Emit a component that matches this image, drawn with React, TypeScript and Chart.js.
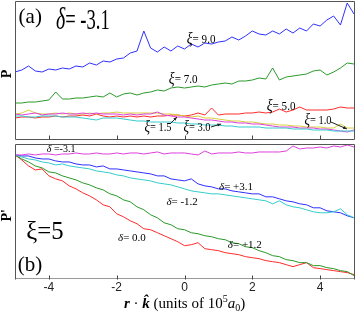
import React, { useEffect, useRef } from "react";
import { Chart, registerables } from "chart.js";
Chart.register(...registerables);

const SERIF = '"Liberation Serif", "DejaVu Serif", serif';
const SANS = '"Liberation Sans", Arial, sans-serif';

// r·k (units of 1e5 a0)
const X_VALUES = [-5, -4.8, -4.6, -4.4, -4.2, -4, -3.8, -3.6, -3.4, -3.2, -3, -2.8, -2.6, -2.4, -2.2, -2, -1.8, -1.6, -1.4, -1.2, -1, -0.8, -0.6, -0.4, -0.2, 0, 0.2, 0.4, 0.6, 0.8, 1, 1.2, 1.4, 1.6, 1.8, 2, 2.2, 2.4, 2.6, 2.8, 3, 3.2, 3.4, 3.6, 3.8, 4, 4.2, 4.4, 4.6, 4.8, 5];
const X_TICKS = [-4, -2, 0, 2, 4];

// Panel (a): delta = -3.1, P (arbitrary units)
const A_XI_9 = [67, 69, 73, 68, 67, 70, 69, 71, 70, 73, 72, 76, 74, 78, 77, 80, 81, 86, 88, 108, 91, 87, 92, 88, 93, 90, 95, 92, 96, 95, 97, 98, 102, 99, 103, 108, 105, 104, 108, 105, 110, 106, 111, 108, 115, 113, 119, 123, 114, 136, 125];
const A_XI_7 = [36, 36, 37, 37, 38, 39, 47, 40, 40, 41, 41, 42, 43, 42, 46, 42, 45, 46, 44, 46, 47, 49, 48, 51, 52, 51, 52, 53, 52, 54, 55, 56, 55, 58, 58, 59, 61, 60, 71, 59, 62, 63, 64, 65, 68, 69, 64, 67, 71, 76, 75];
const A_XI_5 = [21, 22, 22, 21, 22, 22, 23, 22, 23, 23, 24, 23, 25, 23, 22, 23, 22, 23, 22, 23, 22, 23, 23, 24, 24, 23, 24, 26, 24, 31, 24, 25, 25, 25, 26, 26, 27, 26, 27, 30, 27, 29, 32, 29, 29, 29, 29, 30, 32, 31, 31];
const A_XI_1_0 = [25, 26, 29, 26, 25, 25, 26, 25, 26, 25, 25, 26, 25, 26, 26, 27, 26, 26, 26, 26, 26, 26, 25, 25, 24, 23, 22, 23, 21, 21, 20, 19, 18, 18, 17, 17, 16, 15, 15, 14, 14, 13, 13, 12, 12, 12, 11, 11, 15, 11, 11];
const A_XI_1_5 = [25, 24, 25, 26, 24, 25, 25, 26, 25, 25, 26, 25, 26, 25, 25, 25, 24, 25, 24, 25, 25, 27, 24, 23, 22, 22, 21, 20, 19, 19, 18, 17, 17, 16, 16, 15, 15, 14, 13, 12, 12, 12, 11, 11, 11, 10, 10, 9, 8, 7, 9];
const A_XI_3 = [23, 23, 22, 22, 23, 23, 23, 22, 22, 22, 21, 20, 19, 21, 21, 21, 20, 19, 18, 18, 17, 17, 17, 17, 16, 16, 15, 15, 14, 14, 14, 13, 13, 12, 12, 12, 12, 11, 11, 11, 11, 10, 10, 10, 9, 9, 9, 8, 8, 8, 8];

// Panel (b): xi = 5, P' (arbitrary units)
const B_D_M31 = [124, 124, 125, 124, 125, 125, 124, 125, 125, 126, 125, 125, 126, 125, 125, 126, 125, 126, 126, 125, 126, 127, 125, 126, 126, 126, 125, 124, 128, 125, 126, 126, 126, 127, 126, 126, 127, 127, 127, 127, 128, 133, 130, 131, 131, 132, 131, 133, 132, 134, 132];
const B_D_P31 = [124, 123, 123, 121, 120, 120, 118, 117, 117, 115, 114, 114, 112, 113, 110, 110, 109, 108, 107, 106, 105, 103, 103, 100, 99, 98, 100, 95, 93, 92, 90, 90, 88, 87, 86, 85, 85, 82, 82, 80, 78, 77, 75, 74, 71, 71, 68, 67, 66, 63, 61];
const B_D_M12 = [124, 122, 120, 119, 117, 116, 114, 115, 113, 112, 111, 110, 108, 107, 106, 104, 103, 101, 100, 99, 98, 96, 95, 94, 92, 90, 88, 87, 86, 85, 85, 84, 83, 82, 81, 80, 79, 78, 75, 78, 74, 72, 71, 69, 67, 66, 66, 67, 70, 64, 61];
const B_D_P12 = [124, 120, 117, 113, 111, 107, 106, 103, 101, 99, 96, 94, 91, 89, 85, 83, 79, 77, 72, 69, 64, 61, 56, 54, 50, 49, 46, 45, 43, 42, 40, 39, 36, 35, 32, 31, 28, 26, 23, 22, 19, 18, 16, 16, 13, 13, 11, 10, 8, 7, 3];
const B_D_00 = [124, 119, 113, 109, 110, 103, 100, 98, 93, 90, 86, 83, 79, 74, 72, 65, 62, 58, 55, 50, 49, 46, 43, 40, 37, 33, 34, 36, 30, 29, 28, 26, 25, 24, 22, 21, 20, 18, 17, 16, 14, 12, 14, 16, 11, 10, 9, 8, 7, 6, 4];

const C_BLUE = "#2f2fff";
const C_GREEN = "#2a9a2a";
const C_RED = "#ff2b2b";
const C_YELLOW = "#d6cf3a";
const C_MAGENTA = "#dd3fdd";
const C_CYAN = "#35cccc";

type Part = { t: string; font: string; dy?: number };
type Label = { x: number; y: number; parts: Part[]; sx?: number };
type Arrow = { x1: number; y1: number; x2: number; y2: number };

const xiLabel = (v: string): Part[] => [
  { t: "ξ", font: `italic 16px ${SERIF}` },
  { t: "= " + v, font: `13px ${SERIF}` },
];
const dLabel = (v: string): Part[] => [
  { t: "δ", font: `italic 11px ${SERIF}` },
  { t: "=" + v, font: `11px ${SERIF}` },
];

const A_LABELS: Label[] = [
  { x: -4.55, y: 122, parts: [{ t: "(a)", font: `21px ${SERIF}` }] },
  { x: -3.0, y: 118, parts: [{ t: "δ", font: `italic 31px ${SERIF}` }, { t: "= -3.1", font: `29px ${SERIF}` }], sx: 0.64 },
  { x: 0.49, y: 99, parts: xiLabel("9.0"), sx: 0.85 },
  { x: -0.04, y: 59, parts: xiLabel("7.0"), sx: 0.85 },
  { x: 2.85, y: 32, parts: xiLabel("5.0"), sx: 0.85 },
  { x: 3.94, y: 18, parts: xiLabel("1.0"), sx: 0.8 },
  { x: -0.78, y: 11, parts: xiLabel("1.5"), sx: 0.8 },
  { x: 0.37, y: 11, parts: xiLabel("3.0"), sx: 0.8 },
];
const A_ARROWS: Arrow[] = [
  { x1: 4.32, y1: 17, x2: 4.79, y2: 10 },
  { x1: -0.43, y1: 15, x2: -0.22, y2: 22 },
  { x1: 0.78, y1: 12, x2: 1.08, y2: 15 },
];
const B_LABELS: Label[] = [
  { x: -3.64, y: 130, parts: [{ t: "δ", font: `italic 10px ${SERIF}` }, { t: " =-3.1", font: `10px ${SERIF}` }] },
  { x: -4.12, y: 47, parts: [{ t: "ξ=5", font: `26px ${SERIF}` }], sx: 0.95 },
  { x: -4.56, y: 13, parts: [{ t: "(b)", font: `21px ${SERIF}` }] },
  { x: -1.55, y: 41, parts: dLabel(" 0.0") },
  { x: -0.07, y: 77, parts: dLabel(" -1.2") },
  { x: 1.52, y: 92, parts: dLabel(" +3.1") },
  { x: 1.78, y: 34, parts: dLabel(" +1.2") },
];

function drawParts(ctx: CanvasRenderingContext2D, parts: Part[], cx: number, cy: number, sx = 1) {
  ctx.save();
  ctx.textBaseline = "middle";
  ctx.textAlign = "left";
  ctx.fillStyle = "#000";
  let w = 0;
  const widths = parts.map((p) => {
    ctx.font = p.font;
    const m = ctx.measureText(p.t).width;
    w += m;
    return m;
  });
  ctx.translate(cx, cy);
  ctx.scale(sx, 1);
  let x = -w / 2;
  parts.forEach((p, i) => {
    ctx.font = p.font;
    ctx.fillText(p.t, x, p.dy || 0);
    x += widths[i];
  });
  ctx.restore();
}

function makeOverlay(opts: {
  yTitle: string;
  labels: Label[];
  arrows: Arrow[];
  bottomFrame: boolean;
  xTitle: boolean;
}) {
  return {
    id: "overlay",
    afterDraw(chart: any) {
      const { ctx, chartArea } = chart;
      const xs = chart.scales.x;
      const ys = chart.scales.y;
      const L = Math.round(chartArea.left) + 0.5;
      const R = Math.round(chartArea.right) + 0.5;
      const T = Math.round(chartArea.top) + 0.5;
      const B = Math.round(chartArea.bottom) + 0.5;
      ctx.save();
      ctx.lineWidth = 1;
      ctx.strokeStyle = "#555";
      ctx.beginPath();
      ctx.moveTo(L, B);
      ctx.lineTo(L, T);
      ctx.lineTo(R, T);
      ctx.lineTo(R, B);
      if (opts.bottomFrame) ctx.lineTo(L, B);
      ctx.stroke();
      // inward ticks
      ctx.strokeStyle = "#444";
      ctx.beginPath();
      X_TICKS.forEach((v) => {
        const px = Math.round(xs.getPixelForValue(v)) + 0.5;
        ctx.moveTo(px, B);
        ctx.lineTo(px, B - 4);
      });
      ctx.stroke();
      // arrows
      ctx.strokeStyle = "#222";
      ctx.fillStyle = "#222";
      opts.arrows.forEach((a) => {
        const x1 = xs.getPixelForValue(a.x1), y1 = ys.getPixelForValue(a.y1);
        const x2 = xs.getPixelForValue(a.x2), y2 = ys.getPixelForValue(a.y2);
        ctx.beginPath();
        ctx.moveTo(x1, y1);
        ctx.lineTo(x2, y2);
        ctx.stroke();
        const ang = Math.atan2(y2 - y1, x2 - x1);
        ctx.beginPath();
        ctx.moveTo(x2, y2);
        ctx.lineTo(x2 - 4 * Math.cos(ang - 0.4), y2 - 4 * Math.sin(ang - 0.4));
        ctx.lineTo(x2 - 4 * Math.cos(ang + 0.4), y2 - 4 * Math.sin(ang + 0.4));
        ctx.closePath();
        ctx.fill();
      });
      ctx.restore();
      // labels
      opts.labels.forEach((l) => {
        drawParts(ctx, l.parts, xs.getPixelForValue(l.x), ys.getPixelForValue(l.y), l.sx || 1);
      });
      // y title
      ctx.save();
      ctx.translate(7, (chartArea.top + chartArea.bottom) / 2 + 4);
      ctx.rotate(-Math.PI / 2);
      ctx.textAlign = "center";
      ctx.textBaseline = "middle";
      ctx.font = `bold 14px ${SERIF}`;
      ctx.fillStyle = "#000";
      ctx.fillText(opts.yTitle, 0, 0);
      ctx.restore();
      if (opts.xTitle) {
        const cx = (chartArea.left + chartArea.right) / 2;
        drawParts(
          ctx,
          [
            { t: "r", font: `bold italic 15px ${SERIF}` },
            { t: " · ", font: `15px ${SERIF}` },
            { t: "k\u0302", font: `bold italic 15px ${SERIF}` },
            { t: " (units of 10", font: `15px ${SERIF}` },
            { t: "5", font: `10px ${SERIF}`, dy: -5 },
            { t: "a", font: `italic 15px ${SERIF}` },
            { t: "0", font: `10px ${SERIF}`, dy: 4 },
            { t: ")", font: `15px ${SERIF}` },
          ],
          cx,
          chart.height - 10
        );
      }
    },
  };
}

const ds = (arr: number[], color: string) => ({
  data: X_VALUES.map((x, i) => ({ x, y: arr[i] })),
  borderColor: color,
  backgroundColor: color,
  borderWidth: 1,
  pointRadius: 0,
  tension: 0,
  fill: false,
});

export default function App() {
  const refA = useRef<HTMLCanvasElement>(null);
  const refB = useRef<HTMLCanvasElement>(null);
  useEffect(() => {
    const common = {
      responsive: false,
      devicePixelRatio: 1,
      animation: false as const,
      events: [] as any[],
      plugins: { legend: { display: false }, tooltip: { enabled: false } },
    };
    const chartA = new Chart(refA.current!, {
      type: "line",
      data: {
        datasets: [
          ds(A_XI_3, C_CYAN),
          ds(A_XI_1_5, C_MAGENTA),
          ds(A_XI_1_0, C_YELLOW),
          ds(A_XI_5, C_RED),
          ds(A_XI_7, C_GREEN),
          ds(A_XI_9, C_BLUE),
        ],
      },
      options: {
        ...common,
        layout: { padding: { left: 15, right: 3, top: 1, bottom: 2 } },
        scales: {
          x: { type: "linear", min: -5, max: 5, display: false },
          y: { type: "linear", min: 0, max: 138, display: false },
        },
      },
      plugins: [makeOverlay({ yTitle: "P", labels: A_LABELS, arrows: A_ARROWS, bottomFrame: true, xTitle: false })],
    } as any);
    const chartB = new Chart(refB.current!, {
      type: "line",
      data: {
        datasets: [
          ds(B_D_M31, C_MAGENTA),
          ds(B_D_M12, C_CYAN),
          ds(B_D_P31, C_BLUE),
          ds(B_D_P12, C_GREEN),
          ds(B_D_00, C_RED),
        ],
      },
      options: {
        ...common,
        layout: { padding: { left: 15, right: 3, top: 3, bottom: 17 } },
        scales: {
          x: {
            type: "linear",
            min: -5,
            max: 5,
            afterBuildTicks: (axis: any) => {
              axis.ticks = X_TICKS.map((v) => ({ value: v }));
            },
            grid: { display: true, drawOnChartArea: false, drawTicks: false },
            border: { display: true, color: "#999" },
            ticks: { font: { family: SANS, size: 12 }, color: "#222", padding: 2, maxRotation: 0, autoSkip: false },
          },
          y: { type: "linear", min: 0, max: 135, display: false },
        },
      },
      plugins: [makeOverlay({ yTitle: "P'", labels: B_LABELS, arrows: [], bottomFrame: false, xTitle: true })],
    } as any);
    return () => {
      chartA.destroy();
      chartB.destroy();
    };
  }, []);
  return (
    <div style={{ position: "fixed", left: 0, top: 0, width: 357, height: 314, background: "#fff" }}>
      <canvas ref={refA} width={357} height={141} style={{ position: "absolute", left: 0, top: 0 }} />
      <canvas ref={refB} width={357} height={173} style={{ position: "absolute", left: 0, top: 141 }} />
    </div>
  );
}
